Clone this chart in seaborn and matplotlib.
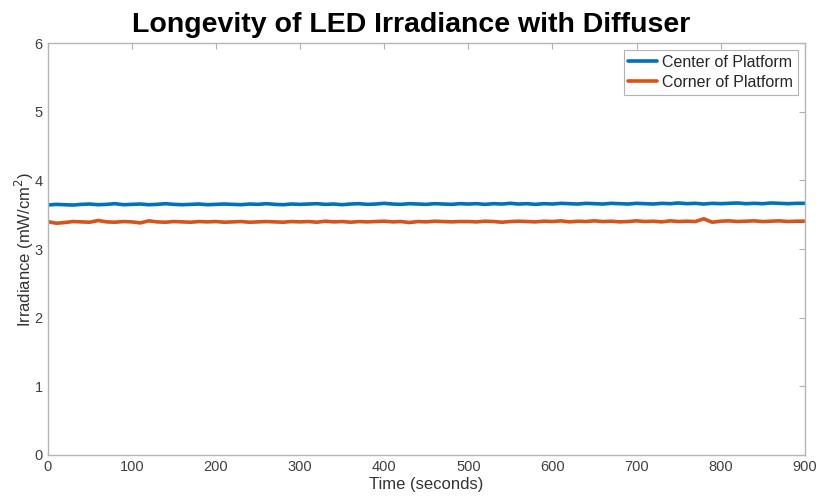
import matplotlib
matplotlib.use("Agg")
import matplotlib.pyplot as plt
import seaborn as sns
import numpy as np
import pandas as pd

time_s = list(range(0, 901, 10))
center = [3.64,3.65,3.645,3.64,3.65,3.655,3.645,3.65,3.66,3.645,
          3.65,3.655,3.645,3.65,3.66,3.65,3.645,3.65,3.655,3.645,
          3.65,3.655,3.65,3.645,3.655,3.65,3.66,3.65,3.645,3.655,
          3.65,3.655,3.66,3.65,3.655,3.645,3.655,3.66,3.65,3.655,
          3.665,3.655,3.65,3.66,3.655,3.65,3.66,3.655,3.65,3.66,
          3.655,3.66,3.65,3.66,3.655,3.665,3.655,3.66,3.65,3.66,
          3.655,3.665,3.66,3.655,3.665,3.66,3.655,3.665,3.66,3.655,
          3.665,3.66,3.655,3.665,3.66,3.67,3.66,3.665,3.655,3.665,
          3.66,3.665,3.67,3.66,3.665,3.66,3.67,3.665,3.66,3.665,
          3.665]
corner = [3.40,3.375,3.385,3.40,3.395,3.39,3.415,3.395,3.39,3.40,
          3.395,3.38,3.41,3.395,3.39,3.40,3.395,3.39,3.40,3.395,
          3.40,3.39,3.395,3.40,3.39,3.395,3.40,3.395,3.39,3.40,
          3.395,3.40,3.39,3.405,3.395,3.40,3.39,3.40,3.395,3.40,
          3.405,3.395,3.40,3.385,3.40,3.395,3.405,3.40,3.395,3.40,
          3.40,3.395,3.405,3.40,3.39,3.40,3.405,3.40,3.395,3.405,
          3.40,3.41,3.395,3.405,3.40,3.41,3.40,3.405,3.395,3.40,
          3.41,3.40,3.405,3.395,3.41,3.40,3.405,3.40,3.44,3.39,
          3.405,3.41,3.40,3.405,3.41,3.40,3.405,3.41,3.40,3.405,
          3.405]
series_names = ["Center of Platform", "Corner of Platform"]
x_ticks = [0, 100, 200, 300, 400, 500, 600, 700, 800, 900]
y_ticks = [0, 1, 2, 3, 4, 5, 6]

df = pd.DataFrame({
    "Time": time_s * 2,
    "Irradiance": center + corner,
    "Series": [series_names[0]] * len(time_s) + [series_names[1]] * len(time_s),
})

sns.set_style("white")
plt.rcParams['font.family'] = ['Liberation Sans', 'DejaVu Sans']

fig = plt.figure(figsize=(8.22, 5.0), dpi=100)
ax = fig.add_axes([0.058, 0.09, 0.921, 0.824])
sns.lineplot(data=df, x="Time", y="Irradiance", hue="Series",
             palette=["#0072BD", "#D95319"], linewidth=2.6, ax=ax)

ax.set_xlim(0, 900)
ax.set_ylim(0, 6)
ax.set_xticks(x_ticks)
ax.set_yticks(y_ticks)
ax.tick_params(direction="in", length=4, width=0.8, colors="#B0B0B0",
               labelcolor="#404040", labelsize=10.5, top=True, right=True)
for s in ax.spines.values():
    s.set_color("#B5B5B5")
    s.set_linewidth(1.0)
ax.set_xlabel("Time (seconds)", fontsize=12, color="#333333", labelpad=2)
ax.set_ylabel("Irradiance (mW/cm$^2$)", fontsize=12, color="#333333", labelpad=-1)
fig.text(0.5, 0.925, "Longevity of LED Irradiance with Diffuser", fontsize=20.5,
         fontweight="bold", color="black", ha="center", va="bottom")
leg = ax.legend(loc="upper right", fontsize=11.5, frameon=True, fancybox=False,
                borderpad=0.3, handlelength=1.8, handletextpad=0.3,
                labelspacing=0.3, borderaxespad=0.45)
leg.set_title(None)
leg.get_frame().set_edgecolor("#A0A0A0")
leg.get_frame().set_linewidth(0.8)

fig.savefig("out.png", dpi=100)
